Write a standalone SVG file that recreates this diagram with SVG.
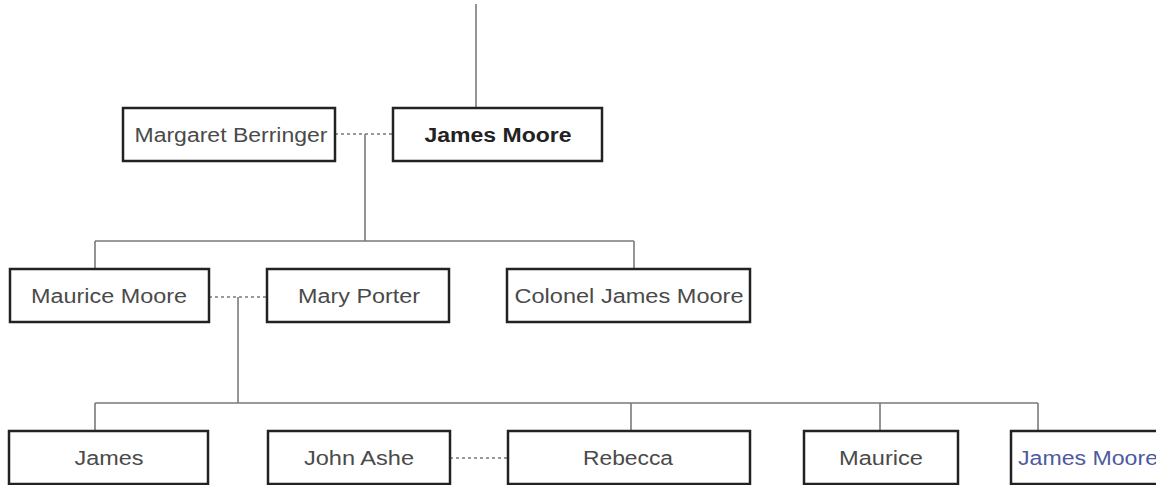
<svg xmlns="http://www.w3.org/2000/svg" width="1156" height="485" viewBox="0 0 1156 485">
<style>
.box{fill:#fff;stroke:#222;stroke-width:2.5}
.t{font-family:"Liberation Sans",Arial,sans-serif;font-size:20px;fill:#4a4a4a;text-anchor:middle}
.b{font-weight:bold;fill:#222}
.link{fill:#4d5aa0;text-anchor:start}
.line{fill:none;stroke:#7a7a7a;stroke-width:1.6}
.dash{fill:none;stroke:#7a7a7a;stroke-width:1.6;stroke-dasharray:3 3}
</style>
<rect width="1156" height="485" fill="#fff"/>
<g id="connectors">
<path class="line" d="M476 4V108"/>
<path class="dash" d="M335 134H393"/>
<path class="line" d="M365 134V241M95 241H634M95 241V269M634 241V269"/>
<path class="dash" d="M209 297H267"/>
<path class="line" d="M238 297V403M95 403H1038M95 403V431M631 403V431M880 403V431M1038 403V431"/>
<path class="dash" d="M450 458H508"/>
</g>
<g id="margaret-berringer"><rect class="box" x="123" y="108" width="212" height="53"/><text class="t" x="231" y="141.5" textLength="193" lengthAdjust="spacingAndGlyphs">Margaret Berringer</text></g>
<g id="james-moore"><rect class="box" x="393" y="108" width="209" height="53"/><text class="t b" x="498" y="141.5" textLength="147" lengthAdjust="spacingAndGlyphs">James Moore</text></g>
<g id="maurice-moore"><rect class="box" x="10" y="269" width="199" height="53"/><text class="t" x="109" y="303" textLength="156" lengthAdjust="spacingAndGlyphs">Maurice Moore</text></g>
<g id="mary-porter"><rect class="box" x="267" y="269" width="182" height="53"/><text class="t" x="359" y="303" textLength="122" lengthAdjust="spacingAndGlyphs">Mary Porter</text></g>
<g id="colonel-james-moore"><rect class="box" x="507" y="269" width="243" height="53"/><text class="t" x="629" y="303" textLength="229" lengthAdjust="spacingAndGlyphs">Colonel James Moore</text></g>
<g id="james"><rect class="box" x="9" y="431" width="199" height="53"/><text class="t" x="109" y="465" textLength="69" lengthAdjust="spacingAndGlyphs">James</text></g>
<g id="john-ashe"><rect class="box" x="268" y="431" width="182" height="53"/><text class="t" x="359" y="465" textLength="110" lengthAdjust="spacingAndGlyphs">John Ashe</text></g>
<g id="rebecca"><rect class="box" x="508" y="431" width="242" height="53"/><text class="t" x="628" y="465" textLength="90" lengthAdjust="spacingAndGlyphs">Rebecca</text></g>
<g id="maurice"><rect class="box" x="804" y="431" width="154" height="53"/><text class="t" x="881" y="465" textLength="84" lengthAdjust="spacingAndGlyphs">Maurice</text></g>
<g id="james-moore-2"><rect class="box" x="1011" y="431" width="160" height="53"/><text class="t link" x="1018" y="465" textLength="140" lengthAdjust="spacingAndGlyphs">James Moore</text></g>
</svg>
